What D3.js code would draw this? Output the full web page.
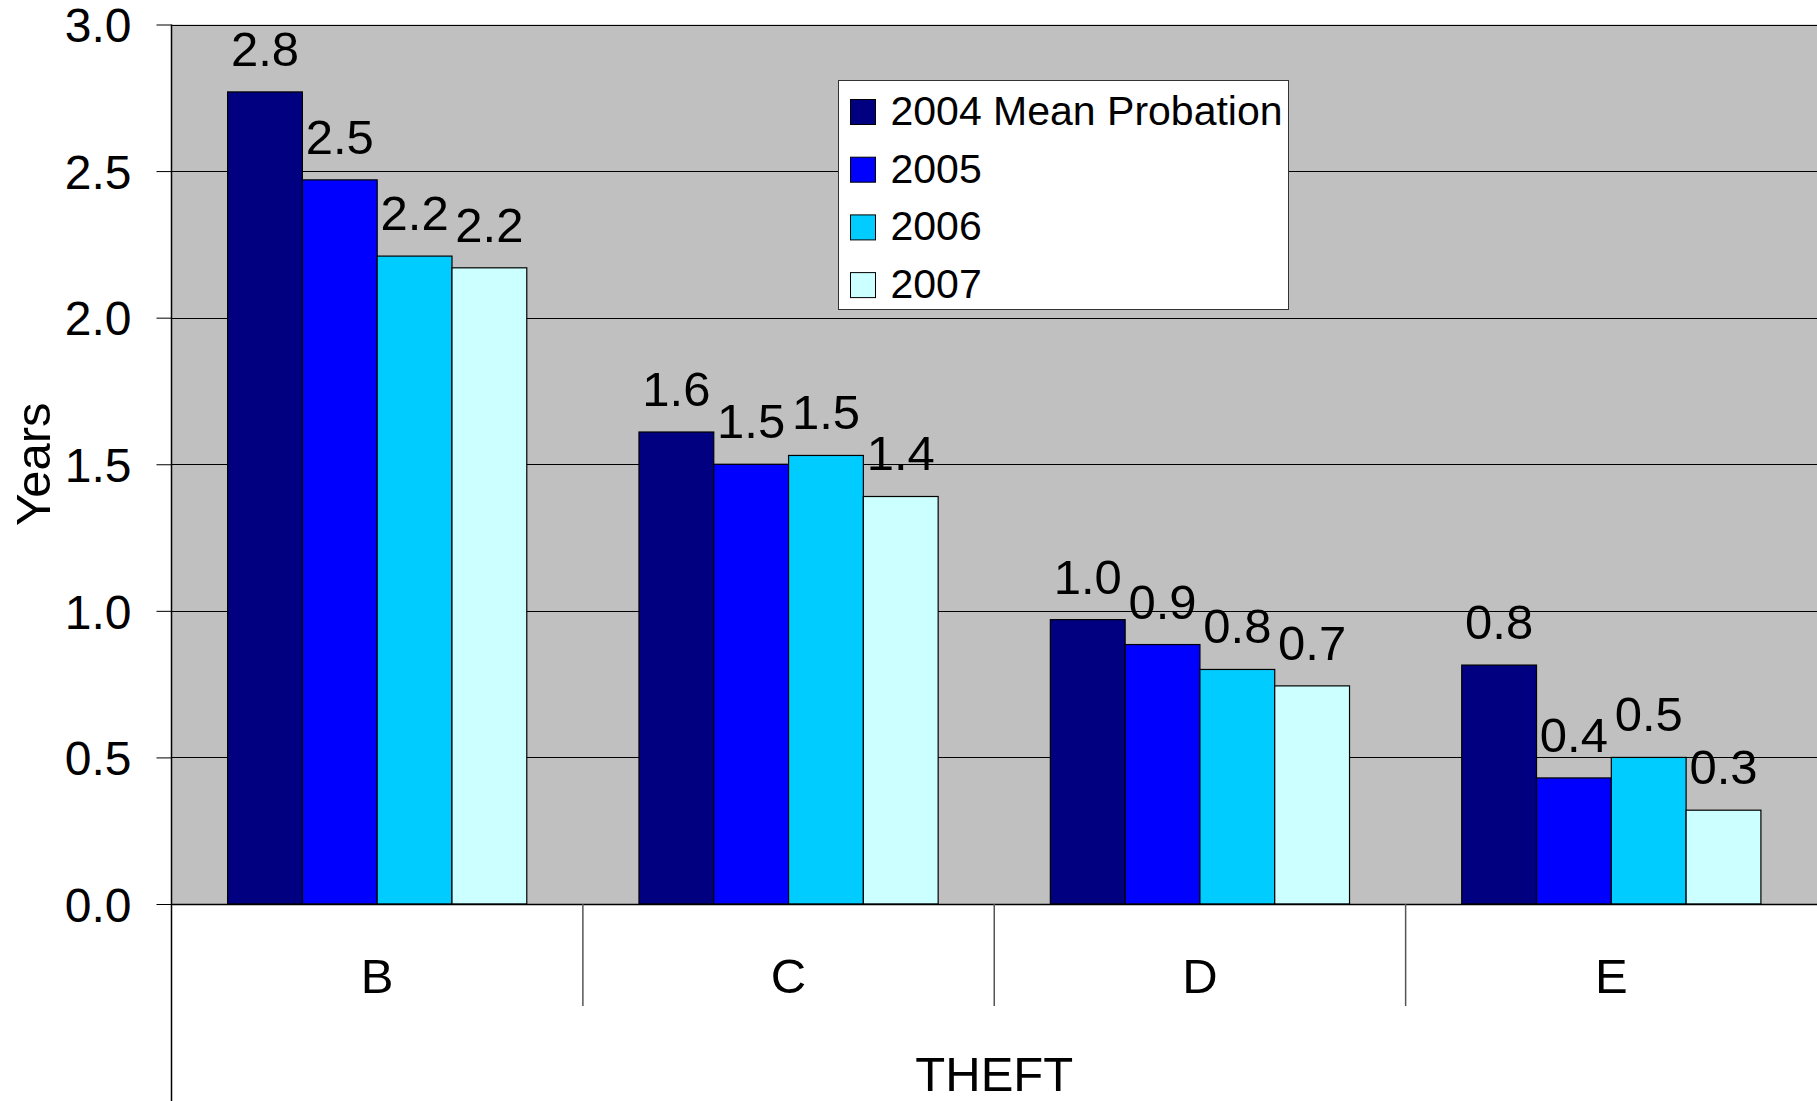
<!DOCTYPE html>
<html>
<head>
<meta charset="utf-8">
<script src="https://cdn.jsdelivr.net/npm/d3@7"></script>
<style>
  html, body { margin: 0; padding: 0; background: #fff; }
  svg { display: block; font-family: "Liberation Sans", Arial, sans-serif; }
</style>
</head>
<body>
<script>
// ---- data ----
const categories = ["B", "C", "D", "E"];
const seriesNames = ["2004 Mean Probation", "2005", "2006", "2007"];
const values2004 = [2.77, 1.61, 0.97, 0.815];
const values2005 = [2.47, 1.50, 0.885, 0.43];
const values2006 = [2.21, 1.53, 0.80, 0.50];
const values2007 = [2.17, 1.39, 0.744, 0.32];
const seriesColors = ["#000080", "#0000FF", "#00CCFF", "#CCFFFF"];
const yTicks = [0, 0.5, 1.0, 1.5, 2.0, 2.5, 3.0];
const xTitle = "THEFT";
const yTitle = "Years";

const seriesValues = [values2004, values2005, values2006, values2007];

const W = 1817, H = 1101;
const margin = { left: 171.5, right: 0, top: 24.5, bottomAxis: 904 };

const svg = d3.select("body").append("svg").attr("width", W).attr("height", H);

const x0 = d3.scaleBand().domain(categories).range([margin.left, W]).paddingInner(0).paddingOuter(0);
const x1 = d3.scaleBand().domain(seriesNames).range([0, x0.bandwidth()]).paddingInner(0).paddingOuter(0.75);
const y = d3.scaleLinear().domain([0, 3]).range([margin.bottomAxis, margin.top]);

// plot background
svg.append("rect")
  .attr("x", margin.left).attr("y", y(3))
  .attr("width", W - margin.left).attr("height", y(0) - y(3))
  .attr("fill", "#C0C0C0");

// gridlines
svg.append("g").selectAll("line").data(yTicks.filter(d => d > 0)).join("line")
  .attr("x1", margin.left).attr("x2", W)
  .attr("y1", d => Math.round(y(d)) + 0.5).attr("y2", d => Math.round(y(d)) + 0.5)
  .attr("stroke", "#000").attr("stroke-width", 1);

// y axis
const yAxis = d3.axisLeft(y).tickValues(yTicks).tickFormat(d3.format(".1f")).tickSize(15).tickPadding(25);
const yg = svg.append("g").attr("transform", `translate(${margin.left},0)`).call(yAxis);
yg.select(".domain").remove();
yg.selectAll(".tick line").attr("stroke", "#000");
yg.selectAll(".tick text").attr("font-size", 48).attr("fill", "#000")
  .attr("font-family", "'Liberation Sans', Arial, sans-serif").attr("dy", "0.36em");

// bars
const groups = svg.append("g").selectAll("g").data(categories).join("g")
  .attr("transform", d => `translate(${x0(d)},0)`);

groups.selectAll("rect").data((c, ci) => seriesNames.map((s, si) => ({ s, si, v: seriesValues[si][ci] })))
  .join("rect")
  .attr("x", d => x1(d.s))
  .attr("y", d => y(d.v))
  .attr("width", x1.bandwidth())
  .attr("height", d => y(0) - y(d.v))
  .attr("fill", d => seriesColors[d.si])
  .attr("stroke", "#000").attr("stroke-width", 1.2);

// data labels
groups.selectAll("text").data((c, ci) => seriesNames.map((s, si) => ({ s, si, v: seriesValues[si][ci] })))
  .join("text")
  .attr("x", d => x1(d.s) + x1.bandwidth() / 2)
  .attr("y", d => y(d.v) - 26)
  .attr("text-anchor", "middle")
  .attr("font-size", 49)
  .attr("fill", "#000")
  .text(d => d3.format(".1f")(d.v));

// x axis line
svg.append("line")
  .attr("x1", margin.left).attr("x2", W)
  .attr("y1", y(0) + 0.5).attr("y2", y(0) + 0.5)
  .attr("stroke", "#000").attr("stroke-width", 1.5);

// left axis line (extends to bottom)
svg.append("line")
  .attr("x1", margin.left).attr("x2", margin.left)
  .attr("y1", y(3)).attr("y2", H)
  .attr("stroke", "#000").attr("stroke-width", 1.5);

// category separators
svg.append("g").selectAll("line").data(categories.slice(1)).join("line")
  .attr("x1", d => x0(d)).attr("x2", d => x0(d))
  .attr("y1", y(0)).attr("y2", 1006)
  .attr("stroke", "#555").attr("stroke-width", 1.5);

// category labels
svg.append("g").selectAll("text").data(categories).join("text")
  .attr("x", d => x0(d) + x0.bandwidth() / 2)
  .attr("y", 993)
  .attr("text-anchor", "middle")
  .attr("font-size", 49)
  .attr("fill", "#000")
  .text(d => d);

// axis titles
svg.append("text")
  .attr("x", (margin.left + W) / 2).attr("y", 1091)
  .attr("text-anchor", "middle").attr("font-size", 49).attr("fill", "#000")
  .text(xTitle);

svg.append("text")
  .attr("transform", `translate(50,${(y(0) + y(3)) / 2}) rotate(-90)`)
  .attr("text-anchor", "middle").attr("font-size", 49).attr("fill", "#000")
  .text(yTitle);

// legend
const lg = svg.append("g").attr("transform", "translate(838.5,80.5)");
lg.append("rect").attr("width", 450).attr("height", 229)
  .attr("fill", "#fff").attr("stroke", "#333").attr("stroke-width", 1);
const items = lg.selectAll("g").data(seriesNames).join("g")
  .attr("transform", (d, i) => `translate(0,${i * 57.7})`);
items.append("rect")
  .attr("x", 12).attr("y", 19).attr("width", 25).attr("height", 25)
  .attr("fill", (d, i) => seriesColors[i]).attr("stroke", "#000").attr("stroke-width", 1);
items.append("text")
  .attr("x", 52).attr("y", 44.5)
  .attr("font-size", 41).attr("fill", "#000")
  .text(d => d);
</script>
</body>
</html>
